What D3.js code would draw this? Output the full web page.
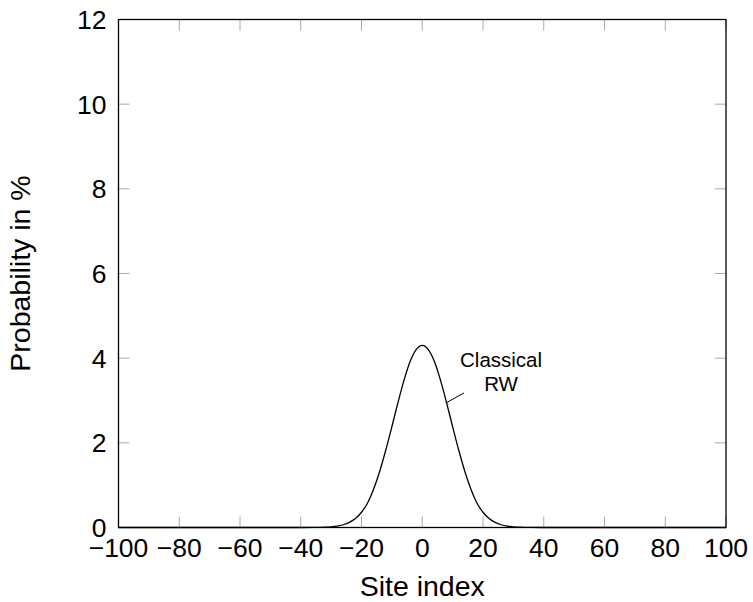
<!DOCTYPE html>
<html>
<head>
<meta charset="utf-8">
<script src="https://cdn.jsdelivr.net/npm/d3@7/dist/d3.min.js"></script>
<style>
  body { margin: 0; background: #fff; }
  text { font-family: "Liberation Sans", Arial, Helvetica, sans-serif; fill: #000; }
</style>
</head>
<body>
<div id="chart"></div>
<script>
// values (site index, probability in %)
var sites = [-100, -40, -36, -34, -32, -30, -28, -26, -24, -22, -20, -18, -16, -14, -12, -10, -8, -6, -4, -2, 0,
             2, 4, 6, 8, 10, 12, 14, 16, 18, 20, 22, 24, 26, 28, 30, 32, 34, 36, 40, 100];
var probability = [0, 0, 0.001, 0.003, 0.007, 0.016, 0.033, 0.065, 0.12, 0.21, 0.36, 0.58, 0.91, 1.33, 1.83, 2.38, 2.95, 3.48, 3.92, 4.2, 4.3,
                   4.2, 3.92, 3.48, 2.95, 2.38, 1.83, 1.33, 0.91, 0.58, 0.36, 0.21, 0.12, 0.065, 0.033, 0.016, 0.007, 0.003, 0.001, 0, 0];
var xTicks = [-100, -80, -60, -40, -20, 0, 20, 40, 60, 80, 100];
var yTicks = [0, 2, 4, 6, 8, 10, 12];
var seriesLabel = ["Classical", "RW"];
var labelAt = 8; // site index where the pin touches the curve

var W = 753, H = 602;
var margin = {top: 19.5, right: 27, bottom: 74.5, left: 118.5};
var width = W - margin.left - margin.right,
    height = H - margin.top - margin.bottom;

var svg = d3.select("#chart").append("svg")
    .attr("width", W)
    .attr("height", H)
  .append("g")
    .attr("transform", "translate(" + margin.left + "," + margin.top + ")");

var x = d3.scaleLinear().domain([-100, 100]).range([0, width]);
var y = d3.scaleLinear().domain([0, 12]).range([height, 0]);

var tickLen = 11;

// ticks, all pointing inward
svg.append("g").selectAll("line").data(xTicks).enter().append("line")
    .attr("x1", d => x(d)).attr("x2", d => x(d))
    .attr("y1", height).attr("y2", height - tickLen)
    .attr("stroke", "#aaa").attr("stroke-width", 1);
svg.append("g").selectAll("line").data(xTicks).enter().append("line")
    .attr("x1", d => x(d)).attr("x2", d => x(d))
    .attr("y1", 0).attr("y2", tickLen)
    .attr("stroke", "#aaa").attr("stroke-width", 1);
svg.append("g").selectAll("line").data(yTicks).enter().append("line")
    .attr("x1", 0).attr("x2", tickLen)
    .attr("y1", d => y(d)).attr("y2", d => y(d))
    .attr("stroke", "#aaa").attr("stroke-width", 1);
svg.append("g").selectAll("line").data(yTicks).enter().append("line")
    .attr("x1", width).attr("x2", width - tickLen)
    .attr("y1", d => y(d)).attr("y2", d => y(d))
    .attr("stroke", "#aaa").attr("stroke-width", 1);

// tick labels
svg.append("g").selectAll("text").data(xTicks).enter().append("text")
    .attr("x", d => x(d))
    .attr("y", height + 29.5)
    .attr("text-anchor", "middle")
    .style("font-size", "26.5px")
    .text(d => d < 0 ? "\u2212" + Math.abs(d) : d);
svg.append("g").selectAll("text").data(yTicks).enter().append("text")
    .attr("x", -12)
    .attr("y", d => y(d) + 9.5)
    .attr("text-anchor", "end")
    .style("font-size", "26.5px")
    .text(d => d);

// frame
svg.append("rect")
    .attr("width", width)
    .attr("height", height)
    .attr("fill", "none")
    .attr("stroke", "#000")
    .attr("stroke-width", 1.3);

// the curve
var pts = sites.map((s, i) => [s, probability[i]]);
var line = d3.line()
    .x(d => x(d[0]))
    .y(d => y(d[1]))
    .curve(d3.curveMonotoneX);

svg.append("path")
    .datum(pts)
    .attr("fill", "none")
    .attr("stroke", "#000")
    .attr("stroke-width", 1.3)
    .attr("d", line);

// pin + label
var pinY = probability[sites.indexOf(labelAt)];
var px = x(labelAt), py = y(pinY);
svg.append("line")
    .attr("x1", px).attr("y1", py)
    .attr("x2", px + 17.5).attr("y2", py - 9.7)
    .attr("stroke", "#000").attr("stroke-width", 1);
svg.append("g").selectAll("text").data(seriesLabel).enter().append("text")
    .attr("x", px + 54.5)
    .attr("y", (d, i) => py - 35.3 + i * 23.4)
    .attr("text-anchor", "middle")
    .style("font-size", "20.5px")
    .text(d => d);

// axis titles
svg.append("text")
    .attr("x", width / 2)
    .attr("y", height + 68.5)
    .attr("text-anchor", "middle")
    .style("font-size", "28.5px")
    .text("Site index");
svg.append("text")
    .attr("transform", "translate(" + (-89) + "," + (height / 2) + ") rotate(-90)")
    .attr("text-anchor", "middle")
    .style("font-size", "28.5px")
    .text("Probability in %");
</script>
</body>
</html>
